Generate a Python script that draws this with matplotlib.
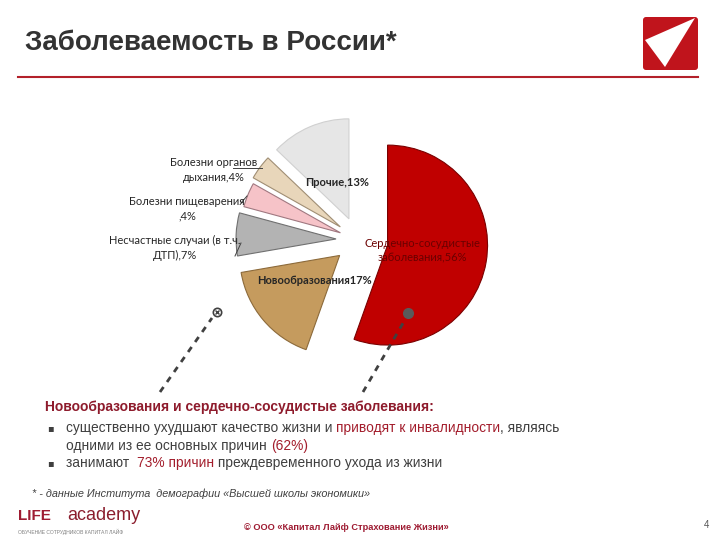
import matplotlib
matplotlib.use('Agg')
import matplotlib.pyplot as plt
from matplotlib.patches import FancyBboxPatch, Polygon

# ---- data ----
categories = ['Сердечно-сосудистые\nзаболевания', 'Новообразования',
              'Несчастные случаи (в т.ч.\nДТП)', 'Болезни пищеварения\n',
              'Болезни органов\nдыхания', 'Прочие']
values = [56, 17, 7, 4, 4, 13]
separators = [',', '', ',', ',', ',', ',']
title = 'Заболеваемость в России*'
heading = 'Новообразования и сердечно-сосудистые заболевания:'
footnote = '* - данные Института  демографии «Высшей школы экономики»'
copyright_text = '© ООО «Капитал Лайф Страхование Жизни»'
page_number = '4'

# ---- styles / layout ----
colors = ['#C00000', '#C59B5E', '#B3B3B3', '#F6C3C8', '#E8D6BA', '#E6E6E6']
edges = ['#7A0000', '#8C6A3A', '#707070', '#A07880', '#A08E74', '#D0D0D0']
explode = [30, 24, 22, 19, 22, 23]
label_pos = [(422, 251), (314, 280), (175, 248), (187, 209), (214, 170), (337, 183)]
label_colors = ['#6B0000', '#262626', '#262626', '#262626', '#262626', '#262626']
label_weights = ['normal', 'bold', 'normal', 'normal', 'normal', 'bold']
W, H = 720, 540
DARK = '#3F3F3F'
RED = '#A31D2C'


def Y(py):
    return H - py


fig = plt.figure(figsize=(7.2, 5.4), dpi=100)
ax = fig.add_axes([0, 0, 1, 1])

wedges, _ = ax.pie(values, center=(358, Y(240)), radius=100, startangle=90,
                   counterclock=False, explode=explode, colors=colors,
                   wedgeprops=dict(linewidth=0.8))
for w, ec in zip(wedges, edges):
    w.set_edgecolor(ec)

ax.set_xlim(0, W)
ax.set_ylim(0, H)
ax.set_aspect('auto')
ax.axis('off')

lab_font = ['Lato', 'DejaVu Sans']
for cat, sep, v, (lx, ly), c, fw in zip(categories, separators, values,
                                         label_pos, label_colors, label_weights):
    ax.text(lx, Y(ly), f'{cat}{sep}{v}%', ha='center', va='center', fontsize=8,
            color=c, fontweight=fw, family=lab_font, linespacing=1.35)

# leader lines
ax.plot([233, 262], [Y(168), Y(168)], color='#404040', lw=0.7)
ax.plot([241, 247], [Y(203), Y(196)], color='#404040', lw=0.7)
ax.plot([235, 241], [Y(256), Y(243)], color='#404040', lw=0.7)

# dashed pointers
ax.plot([160, 212], [Y(392), Y(318)], ls=(0, (2.2, 2.2)), lw=2, color='#404040')
ax.plot([363, 406], [Y(392), Y(318)], ls=(0, (2.2, 2.2)), lw=2, color='#404040')
ax.plot(217, Y(312), marker='o', ms=6, mfc='white', mec='#404040', mew=1.2)
ax.plot(217, Y(312), marker='x', ms=3, mec='#404040', mew=1)
ax.plot(408, Y(313), marker='o', ms=7, color='#5A5A5A')

# title, rule, logo
ax.text(25, Y(43), title, fontsize=20, fontweight='bold', color='#333333',
        va='center', ha='left', family='Liberation Sans')
ax.plot([18, 698], [Y(77), Y(77)], color='#B3202A', lw=1.5)
ax.add_patch(FancyBboxPatch((643, Y(70)), 55, 53,
                            boxstyle='round,pad=0,rounding_size=3',
                            fc='#C0141C', ec='none'))
ax.add_patch(Polygon([(645, Y(40)), (695, Y(18)), (665, Y(67))],
                     closed=True, fc='white', ec='none'))

# text block
body_font = 'Liberation Sans'


def rich(x, y, parts, size=9.9, weight='normal'):
    t = ax.text(x, Y(y), parts[0][0], color=parts[0][1], fontsize=size,
                va='center', ha='left', family=body_font, fontweight=weight)
    for s, c in parts[1:]:
        t = ax.annotate(s, xy=(1, 0), xycoords=t, color=c, fontsize=size,
                        va='bottom', ha='left', family=body_font, fontweight=weight)


ax.text(45, Y(407), heading, fontsize=10, fontweight='bold', color='#8E1B2C',
        va='center', ha='left', family=body_font)
for by in (428, 463):
    ax.text(47, Y(by), '▪', fontsize=7, color=DARK, va='center', ha='left',
            family='DejaVu Sans')
rich(66, 428, [('существенно ухудшают качество жизни и ', DARK),
               ('приводят к инвалидности', RED), (', являясь', DARK)])
rich(66, 446, [('одними из ее основных причин ', DARK), ('(62%)', RED)])
rich(66, 463, [('занимают  ', DARK), ('73% причин', RED),
               (' преждевременного ухода из жизни', DARK)])

ax.text(32, Y(494), footnote, fontsize=7.8, style='italic', color='#404040',
        va='center', ha='left', family=body_font)

# footer
ax.text(18, Y(520), 'LIFE', fontsize=11, fontweight='bold', color='#9E1B32',
        va='baseline', ha='left', family=body_font)
ax.text(67, Y(520), 'academy', fontsize=13, color='#8B1E2E',
        va='baseline', ha='left', family=body_font)
ax.text(18, Y(532), 'ОБУЧЕНИЕ СОТРУДНИКОВ КАПИТАЛ ЛАЙФ', fontsize=3.6,
        color='#808080', va='center', ha='left', family=body_font)
ax.text(346, Y(527), copyright_text, fontsize=6.7, fontweight='bold',
        color='#9E1B32', va='center', ha='center', family=body_font)
ax.text(706, Y(525), page_number, fontsize=7, color='#555555',
        va='center', ha='center', family=body_font)

fig.savefig('out.png', dpi=100)
